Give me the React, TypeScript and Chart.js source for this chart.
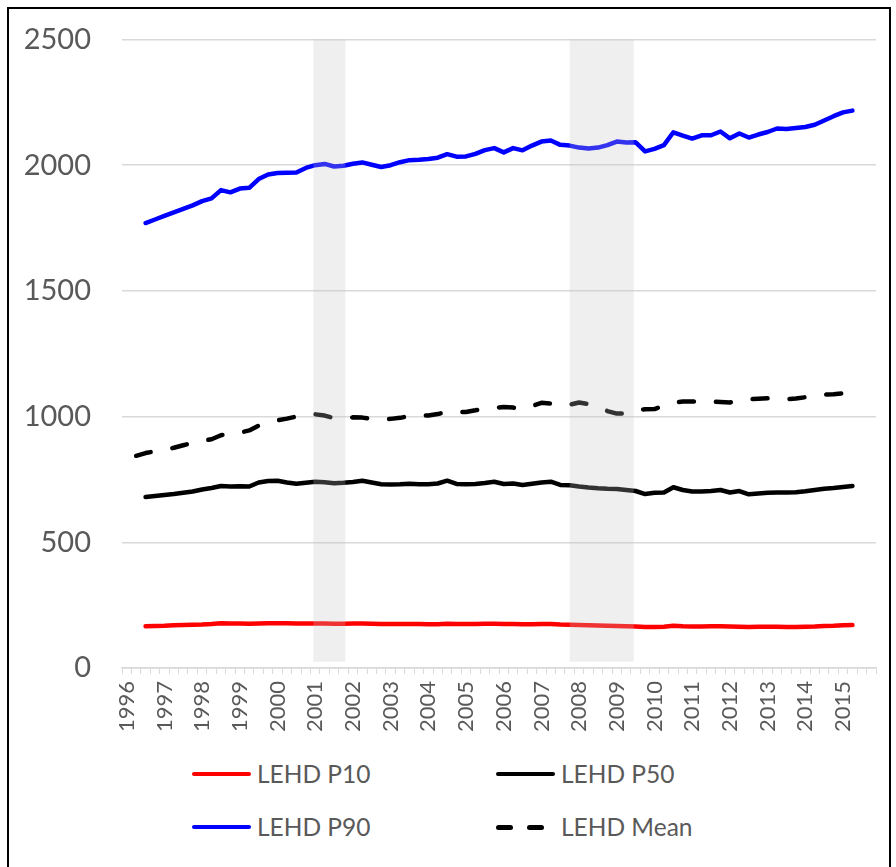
import React, { useEffect, useRef } from "react";
import { Chart, registerables } from "chart.js";

Chart.register(...registerables);

const years = [
  "1996", "1997", "1998", "1999", "2000", "2001", "2002", "2003", "2004", "2005",
  "2006", "2007", "2008", "2009", "2010", "2011", "2012", "2013", "2014", "2015",
];
const quarterNames = ["Q1", "Q2", "Q3", "Q4"];
const categories = years.flatMap((y) => quarterNames.map((q) => `${y} ${q}`));

const yTicks = [0, 500, 1000, 1500, 2000, 2500];

const p10 = [
  null, null,
  166, 167, 168, 170, 171, 172, 173, 175, 178, 177,
  177, 176, 177, 178, 178, 178, 177, 177, 177, 177,
  176, 176, 177, 177, 176, 175, 175, 175, 175, 175,
  174, 174, 176, 175, 175, 175, 176, 176, 175, 175,
  174, 174, 175, 175, 173, 172, 171, 170, 169, 168,
  167, 166, 165, 163, 163, 164, 168, 166, 165, 165,
  166, 166, 165, 164, 163, 164, 164, 164, 163, 163,
  164, 165, 167, 168, 170, 171,
  null, null,
];

const p50 = [
  null, null,
  680, 684, 688, 692, 697, 702, 710, 716, 724, 722,
  723, 722, 738, 744, 745, 738, 733, 737, 741, 739,
  735, 737, 740, 745, 738, 731, 730, 731, 733, 731,
  731, 734, 745, 732, 731, 732, 736, 741, 732, 734,
  728, 733, 738, 741, 728, 727, 722, 718, 715, 713,
  712, 708, 704, 692, 697, 698, 719, 708, 702, 702,
  704, 708, 698, 704, 691, 694, 697, 698, 698, 699,
  703, 708, 713, 716, 720, 724,
  null, null,
];

const p90 = [
  null, null,
  1770, 1784, 1798, 1812, 1826, 1840, 1857, 1868, 1901, 1892,
  1907, 1910, 1945, 1963, 1969, 1970, 1971, 1989, 2000, 2005,
  1995, 1998, 2006, 2011, 2002, 1993, 2000, 2012, 2020, 2022,
  2025, 2030, 2044, 2034, 2035, 2045, 2060, 2068, 2051, 2068,
  2059, 2078, 2094, 2098, 2081, 2078, 2070, 2066, 2070, 2080,
  2094, 2090, 2091, 2055, 2065, 2080, 2131, 2118, 2106, 2119,
  2119, 2134, 2107, 2126, 2110, 2122, 2132, 2146, 2144, 2148,
  2152, 2161, 2178, 2195, 2210, 2217,
  null, null,
];

const mean = [
  null,
  844, 855, 862, 868, 876, 886, 896, 903, 910, 926,
  932, 936, 945, 964, 976, 985, 992, 1000, 1005, 1009,
  1004, 994, 995, 997, 996, 991, 990, 991, 995, 1002,
  1004, 1004, 1010, 1020, 1019, 1018, 1025, 1033, 1035, 1038,
  1036, 1031, 1042, 1055, 1052, 1045, 1047, 1056, 1050, 1037,
  1022, 1012, 1013, 1027, 1029, 1030, 1044, 1056, 1060, 1060,
  1058, 1060, 1058, 1056, 1064, 1069, 1071, 1073, 1071, 1069,
  1072, 1077, 1082, 1087, 1089, 1093, 1100, 1109,
  null,
];

// Recession bands, in quarter-index units (category edges) and value units
const recessionFrom = [20.3, 47.5];
const recessionTo = [23.7, 54.3];
const recessionLow = 25;
const recessionHigh = 2500;

const seriesNames = ["LEHD P10", "LEHD P50", "LEHD P90", "LEHD Mean"];
const seriesColors = ["#ff0000", "#000000", "#0000ff", "#000000"];

const FONT = "Lato, 'Open Sans', sans-serif";
const TEXT = "#595959";
const GRID = "#d9d9d9";

const recessionPlugin = {
  id: "recessionBands",
  afterDatasetsDraw(chart: any) {
    const { ctx } = chart;
    const x = chart.scales.x;
    const y = chart.scales.y;
    const top = y.getPixelForValue(recessionHigh);
    const bottom = y.getPixelForValue(recessionLow);
    ctx.save();
    ctx.fillStyle = "rgba(192,192,192,0.26)";
    recessionFrom.forEach((f, i) => {
      const l = x.getPixelForValue(f - 0.5);
      const r = x.getPixelForValue(recessionTo[i] - 0.5);
      ctx.fillRect(l, top, r - l, bottom - top);
    });
    ctx.restore();
  },
};

function LegendLine({ color, dashed }: { color: string; dashed?: boolean }) {
  if (dashed) {
    return (
      <div style={{ position: "relative", width: 59, height: 5 }}>
        <div style={{ position: "absolute", left: 0, top: 0, width: 17, height: 5, borderRadius: 2.5, background: color }} />
        <div style={{ position: "absolute", left: 31, top: 0, width: 17, height: 5, borderRadius: 2.5, background: color }} />
      </div>
    );
  }
  return <div style={{ width: 59, height: 4.5, borderRadius: 2.25, background: color }} />;
}

export default function App() {
  const ref = useRef<HTMLCanvasElement | null>(null);

  useEffect(() => {
    document.body.style.overflow = "hidden";
    const canvas = ref.current;
    if (!canvas) return;
    const common = {
      borderWidth: 4.5,
      pointRadius: 0,
      pointHoverRadius: 0,
      tension: 0,
      borderCapStyle: "round" as const,
      borderJoinStyle: "round" as const,
      fill: false,
    };
    const chart = new Chart(canvas, {
      type: "line",
      data: {
        labels: categories,
        datasets: [
          { ...common, label: seriesNames[0], data: p10, borderColor: seriesColors[0] },
          { ...common, label: seriesNames[1], data: p50, borderColor: seriesColors[1] },
          { ...common, label: seriesNames[2], data: p90, borderColor: seriesColors[2] },
          { ...common, label: seriesNames[3], data: mean, borderColor: seriesColors[3], borderDash: [15, 22] },
        ],
      },
      options: {
        animation: false,
        responsive: false,
        maintainAspectRatio: false,
        events: [],
        layout: { autoPadding: false, padding: { top: 39.5, right: 20, bottom: 0, left: 0 } },
        plugins: { legend: { display: false }, tooltip: { enabled: false }, title: { display: false } },
        scales: {
          x: {
            type: "category",
            offset: true,
            grid: { display: true, drawOnChartArea: false, drawTicks: true, tickLength: 6, color: GRID, lineWidth: 1, offset: true },
            border: { display: true, color: GRID, width: 1.5 },
            ticks: {
              autoSkip: false,
              maxRotation: 90,
              minRotation: 90,
              padding: 7,
              color: TEXT,
              font: { family: FONT, size: 22 },
              callback: (_v: any, i: number) => (i % 4 === 0 ? categories[i].slice(0, 4) : ""),
            },
            afterFit: (s: any) => {
              s.height = 80;
              s.paddingLeft = 0;
              s.paddingRight = 0;
            },
          },
          y: {
            min: 0,
            max: 2500,
            afterBuildTicks: (s: any) => {
              s.ticks = yTicks.map((v) => ({ value: v }));
            },
            grid: { color: GRID, lineWidth: 1.5, drawTicks: false },
            border: { display: false },
            ticks: {
              padding: 31,
              color: TEXT,
              font: { family: FONT, size: 29 },
              callback: (v: any) => String(v),
            },
            afterFit: (s: any) => {
              s.width = 122;
              s.paddingTop = 0;
              s.paddingBottom = 0;
            },
          },
        },
      },
      plugins: [recessionPlugin],
    });
    return () => chart.destroy();
  }, []);

  const textStyle: React.CSSProperties = {
    fontFamily: FONT,
    fontSize: 24.5,
    lineHeight: "26px",
    color: TEXT,
    whiteSpace: "nowrap",
  };

  const items = [
    { name: seriesNames[0], color: seriesColors[0], left: 192, top: 774 },
    { name: seriesNames[1], color: seriesColors[1], left: 496, top: 774 },
    { name: seriesNames[2], color: seriesColors[2], left: 192, top: 827 },
    { name: seriesNames[3], color: seriesColors[3], left: 496, top: 827, dashed: true },
  ];

  return (
    <div>
      <div
        style={{
          position: "fixed",
          left: 7,
          top: 7,
          width: 884,
          height: 900,
          boxSizing: "border-box",
          border: "2px solid #000",
          background: "#fff",
        }}
      />
      <canvas
        ref={ref}
        width={896}
        height={748}
        style={{ position: "fixed", left: 0, top: 0, width: 896, height: 748 }}
      />
      {items.map((it) => (
        <div
          key={it.name}
          style={{
            position: "fixed",
            left: it.left,
            top: it.top - 13,
            height: 26,
            display: "flex",
            alignItems: "center",
          }}
        >
          <LegendLine color={it.color} dashed={it.dashed} />
          <span style={{ ...textStyle, marginLeft: 6 }}>{it.name}</span>
        </div>
      ))}
    </div>
  );
}
